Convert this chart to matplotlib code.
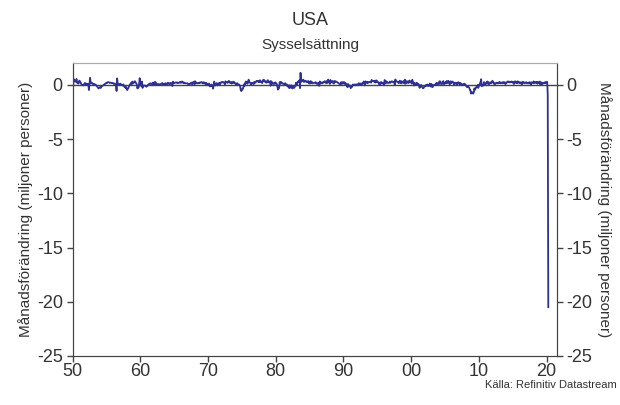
"""USA: monthly change in nonfarm payrolls (millions), 1950-2020."""
import numpy as np
import matplotlib.pyplot as plt

plt.rcParams["font.family"] = ["Liberation Sans", "DejaVu Sans"]
plt.rcParams["axes.unicode_minus"] = False

START_YEAR = 1950

# monthly change, thousands of persons (Jan 1950 - Apr 2020)
jobs_1950s = [
    150, -200, 550, 370, 340, 320, 280, 540, 200, 230, 110, 160,
    390, 330, 270, 110, 50, 10, -30, -60, 40, 80, 180, 100,
    60, 120, -20, 100, 70, -480, 30, 650, 300, 150, 140, 170,
    80, 90, 100, 20, -20, 30, -60, -130, -180, -230, -330, -290,
    -250, -190, -280, -150, -120, -80, -60, -20, 30, 60, 120, 130,
    200, 170, 230, 250, 250, 220, 180, 210, 190, 170, 160, 180,
    160, 90, 110, 120, 60, 20, -560, 600, 140, 60, 40, 70,
    60, 110, 40, 10, -30, -60, 40, -50, -200, -160, -280, -200,
    -390, -480, -350, -280, -130, -40, 30, 130, 200, 70, 300, 140,
    170, 200, 330, 320, 200, 130, 30, -330, -150, -250, 100, 620,
]
jobs_1960s = [
    250, 40, -120, 300, -280, -60, -80, -60, -60, -80, -150, -170,
    -80, -80, 0, 60, 80, 120, 140, 100, 40, 110, 200, 100,
    -20, 250, 90, 260, 50, 20, 60, 20, 70, 30, 50, 0,
    60, 100, 110, 170, 60, 90, 120, 40, 120, 150, 20, 110,
    90, 200, 160, 80, 140, 80, 170, 170, 120, -110, 300, 160,
    160, 200, 200, 220, 220, 180, 220, 180, 170, 220, 210, 280,
    200, 230, 310, 200, 190, 240, 150, 180, 150, 150, 160, 140,
    140, 40, 40, 20, 120, 120, 180, 210, 40, 140, 280, 190,
    60, 340, 120, 230, 160, 140, 170, 190, 150, 220, 190, 210,
    260, 220, 220, 120, 240, 230, 170, 180, 10, 180, 60, 100,
]
jobs_1970s = [
    80, 90, 120, -140, -130, -80, 30, -120, -60, -350, -60, 300,
    50, -60, 40, 150, 160, -50, 80, 110, 200, 20, 170, 230,
    260, 210, 240, 270, 210, 180, 40, 330, 240, 280, 190, 190,
    280, 370, 290, 190, 170, 260, 120, 230, 160, 290, 280, 160,
    130, 150, 40, 120, 150, 70, 40, 30, -60, -100, -490, -570,
    -510, -360, -360, -170, 50, -80, 180, 310, 180, 230, 100, 310,
    480, 260, 240, 170, 20, 90, 200, 140, 180, 70, 280, 230,
    190, 280, 370, 350, 310, 370, 250, 260, 430, 280, 330, 290,
    160, 340, 460, 480, 330, 360, 230, 240, 200, 370, 430, 260,
    220, 270, 330, -80, 340, 200, 220, 80, 100, 160, 100, 230,
]
jobs_1980s = [
    120, 140, 80, -170, -440, -330, -300, 250, 110, 280, 240, 160,
    110, 130, 100, 90, 20, 160, 80, -50, -80, 20, -170, -210,
    -300, -30, -140, -270, -40, -250, -330, -160, -180, -270, -130, -10,
    200, -60, 180, 280, 280, 380, 420, -300, 1110, 270, 360, 350,
    450, 480, 270, 360, 310, 380, 310, 240, 310, 290, 350, 130,
    270, 130, 350, 200, 270, 140, 190, 190, 200, 180, 210, 250,
    120, 110, 90, 180, 120, -90, 310, 120, 240, 140, 180, 220,
    180, 280, 240, 340, 220, 170, 350, 170, 220, 490, 230, 290,
    90, 450, 280, 240, 210, 360, 220, 120, 340, 270, 340, 290,
    270, 250, 200, 170, 120, 110, 40, 50, 250, 120, 230, 100,
]
jobs_1990s = [
    250, 200, 230, 50, 150, 10, -20, -210, 90, -150, -140, -40,
    -110, -310, -150, -200, -40, 40, -50, 0, 40, 20, -50, 40,
    40, -40, 40, 150, 130, 70, 120, 20, 50, 150, 100, 200,
    310, 220, -50, 320, 250, 200, 290, 150, 230, 270, 260, 270,
    290, 200, 460, 350, 340, 320, 380, 290, 350, 210, 420, 320,
    330, 220, 220, 160, -10, 230, 80, 250, 230, 130, 160, 120,
    -20, 450, 280, 140, 330, 280, 200, 170, 200, 210, 300, 180,
    230, 320, 310, 310, 240, 230, 290, 20, 500, 330, 300, 310,
    270, 240, 150, 260, 390, 210, 140, 340, 210, 200, 290, 360,
    130, 480, 100, 360, 190, 260, 330, 170, 200, 400, 270, 300,
]
jobs_2000s = [
    230, 120, 470, 280, 230, -60, 160, 0, 120, 0, 200, 110,
    40, 60, -30, -280, -40, -130, -20, -160, -240, -320, -290, -170,
    -140, -140, -20, -90, -10, 40, -100, -10, -90, 120, 10, -160,
    90, -160, -210, -50, -10, 0, 20, -40, 110, 190, 20, 120,
    160, 40, 330, 250, 310, 80, 50, 120, 160, 350, 60, 140,
    130, 240, 140, 360, 170, 240, 370, 190, 70, 80, 330, 160,
    280, 310, 280, 180, 20, 80, 200, 180, 160, 10, 210, 170,
    240, 90, 190, 80, 140, 80, -30, -20, 70, 80, 110, 90,
    20, -80, -80, -210, -190, -170, -210, -270, -460, -480, -800, -660,
    -780, -700, -800, -690, -330, -470, -350, -210, -230, -200, 0, -280,
]
jobs_2010s = [
    -20, -50, 160, 250, 520, -130, -70, -40, -60, 260, 120, 90,
    40, 210, 230, 310, 100, 230, 70, 110, 240, 180, 150, 210,
    380, 260, 240, 80, 120, 70, 160, 190, 200, 140, 150, 220,
    190, 260, 140, 190, 220, 170, 150, 260, 190, 210, 250, 60,
    190, 170, 270, 310, 290, 310, 230, 230, 280, 240, 320, 260,
    210, 270, 80, 250, 330, 210, 300, 150, 160, 330, 230, 260,
    150, 230, 230, 160, 30, 270, 270, 200, 230, 140, 180, 220,
    250, 170, 140, 190, 140, 240, 190, 220, 20, 240, 210, 180,
    170, 320, 160, 200, 270, 230, 150, 280, 110, 250, 200, 230,
    310, 0, 190, 230, 60, 180, 170, 130, 210, 180, 260, 150,
]
jobs_2020 = [210, 280, -870, -20500]

Y_TICKS = [0, -5, -10, -15, -20, -25]
X_TICKS = [1950, 1960, 1970, 1980, 1990, 2000, 2010, 2020]
X_LABELS = ["50", "60", "70", "80", "90", "00", "10", "20"]

TEXT = "#333333"
LINE = "#2E3192"


def main() -> None:
    values = np.array(jobs_1950s + jobs_1960s + jobs_1970s + jobs_1980s
                      + jobs_1990s + jobs_2000s + jobs_2010s + jobs_2020) / 1000.0
    dates = START_YEAR + np.arange(len(values)) / 12.0

    fig = plt.figure(figsize=(6.2, 4.05), dpi=100)
    ax = fig.add_axes([0.117, 0.121, 0.781, 0.723])

    ax.axhline(0, color="#444444", linewidth=1.0, zorder=1)
    ax.plot(dates, values, color=LINE, linewidth=1.3, zorder=2)

    ax.set_xlim(1950, 2021.5)
    ax.set_ylim(-25, 2)
    ax.set_xticks(X_TICKS)
    ax.set_xticklabels(X_LABELS)
    ax.set_yticks(Y_TICKS)

    ax2 = ax.twinx()
    ax2.set_ylim(-25, 2)
    ax2.set_yticks(Y_TICKS)

    for a in (ax, ax2):
        a.tick_params(colors="#444444", labelcolor=TEXT, labelsize=13, length=4, width=1, pad=3)
        for side in ("left", "right", "bottom"):
            a.spines[side].set_color("#444444")
        a.spines["top"].set_color("#aaaaaa")
    ax.tick_params(axis="x", pad=1)

    ax.set_ylabel("Månadsförändring (miljoner personer)", fontsize=11, color=TEXT, labelpad=3)
    ax2.set_ylabel("Månadsförändring (miljoner personer)", fontsize=11, color=TEXT,
                   rotation=270, labelpad=14)

    fig.text(0.5, 0.95, "USA", ha="center", va="center", fontsize=13, color=TEXT)
    fig.text(0.5, 0.89, "Sysselsättning", ha="center", va="center", fontsize=11, color=TEXT)
    fig.text(0.995, 0.05, "Källa: Refinitiv Datastream", ha="right", va="center",
             fontsize=8, color=TEXT)

    fig.savefig("out.png", dpi=100)
    plt.close(fig)


if __name__ == "__main__":
    main()
